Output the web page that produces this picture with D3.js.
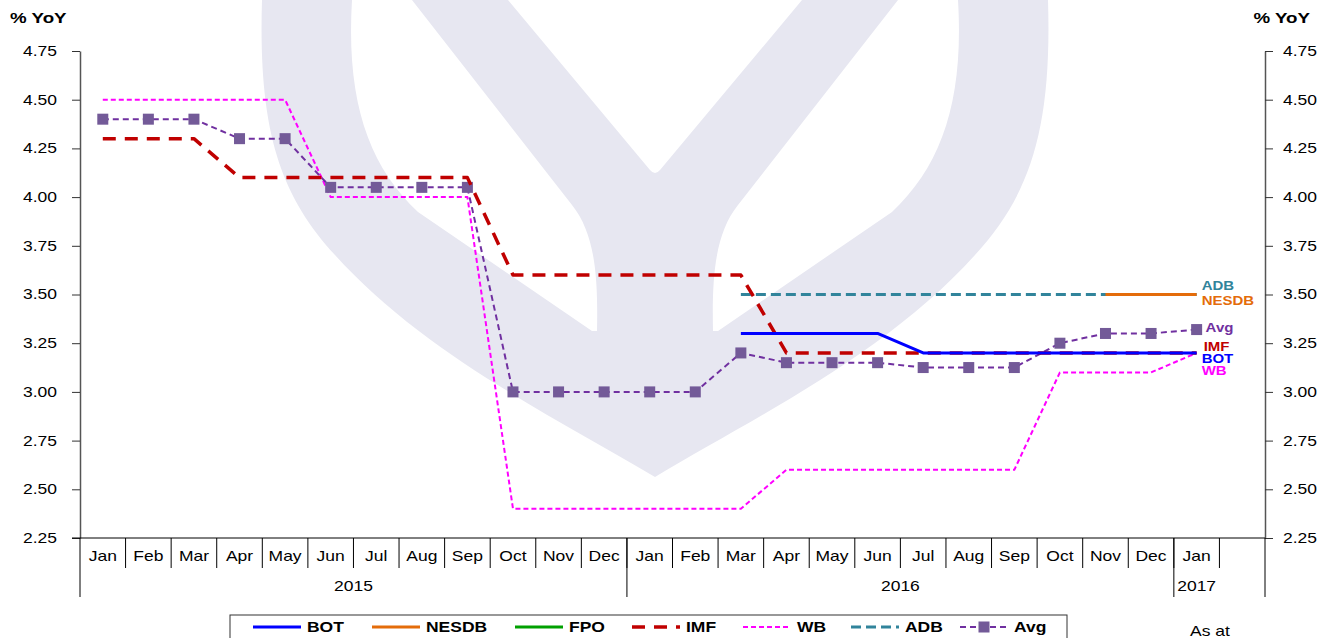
<!DOCTYPE html>
<html>
<head>
<meta charset="utf-8">
<script src="https://cdnjs.cloudflare.com/ajax/libs/d3/7.8.5/d3.min.js"></script>
<style>
  body { margin: 0; background: #fff; }
  svg { font-family: "Liberation Sans", Arial, sans-serif; }
</style>
</head>
<body>
<svg id="chart" width="1333" height="638"></svg>
<script>
// Categories (one slot per month, plus an empty slot at the end)
var months = ["Jan", "Feb", "Mar", "Apr", "May", "Jun", "Jul", "Aug", "Sep", "Oct", "Nov", "Dec",
  "Jan", "Feb", "Mar", "Apr", "May", "Jun", "Jul", "Aug", "Sep", "Oct", "Nov", "Dec",
  "Jan"];
var years = ["2015", "2016", "2017"];
var yearLengths = [12, 12, 1];
var yTicks = [2.25, 2.50, 2.75, 3.00, 3.25, 3.50, 3.75, 4.00, 4.25, 4.50, 4.75];

// Series values (% YoY forecasts), null = no forecast that month
var bot = [null, null, null, null, null, null, null, null, null, null, null, null,
  null, null, 3.3, 3.3, 3.3, 3.3, 3.2, 3.2, 3.2, 3.2, 3.2, 3.2, 3.2];
var nesdb = [null, null, null, null, null, null, null, null, null, null, null, null,
  null, null, null, null, null, null, null, null, null, null, 3.5, 3.5, 3.5];
var fpo = [null, null, null, null, null, null, null, null, null, null, null, null,
  null, null, null, null, null, null, null, null, null, null, null, null, null];
var imf = [4.3, 4.3, 4.3, 4.1, 4.1, 4.1, 4.1, 4.1, 4.1, 3.6, 3.6, 3.6,
  3.6, 3.6, 3.6, 3.2, 3.2, 3.2, 3.2, 3.2, 3.2, 3.2, 3.2, 3.2, 3.2];
var wb = [4.5, 4.5, 4.5, 4.5, 4.5, 4.0, 4.0, 4.0, 4.0, 2.4, 2.4, 2.4,
  2.4, 2.4, 2.4, 2.6, 2.6, 2.6, 2.6, 2.6, 2.6, 3.1, 3.1, 3.1, 3.2];
var adb = [null, null, null, null, null, null, null, null, null, null, null, null,
  null, null, 3.5, 3.5, 3.5, 3.5, 3.5, 3.5, 3.5, 3.5, 3.5, 3.5, 3.5];
var avg = [4.4, 4.4, 4.4, 4.3, 4.3, 4.05, 4.05, 4.05, 4.05, 3.0, 3.0, 3.0,
  3.0, 3.0, 3.2, 3.15, 3.15, 3.15, 3.125, 3.125, 3.125, 3.25, 3.3, 3.3, 3.32];

// Chart area
var plot = { left: 80, right: 1265, top: 51, bottom: 538 };
var nSlots = months.length + 1;
var stretchX = 1.25; // the original text is drawn a bit wide

var svg = d3.select("#chart");

var xScale = d3.scaleBand()
  .domain(d3.range(nSlots))
  .range([plot.left, plot.right]);

var yScale = d3.scaleLinear()
  .domain([2.25, 4.75])
  .range([plot.bottom, plot.top]);

var xc = i => xScale(i) + xScale.bandwidth() / 2;

// Watermark logo (decoration behind the lines)
var wm = svg.append("g");
wm.append("path")
  .attr("fill", "#e7e7f1")
  .attr("d", "M262,0 C258,130 280,195 335,255 C425,355 560,420 655,477 C750,420 885,355 975,255 C1030,195 1052,130 1048,0 Z");
wm.append("path")
  .attr("fill", "#fff")
  .attr("d", "M352,0 C346,100 368,165 418,212 L592,331 L597,331 C598,280 596,235 572,205 L412,0 Z");
wm.append("path")
  .attr("fill", "#fff")
  .attr("d", "M958,0 C964,100 942,165 892,212 L718,331 L713,331 C712,280 714,235 738,205 L898,0 Z");
wm.append("path")
  .attr("fill", "#fff")
  .attr("d", "M508,0 L650,170 Q655,176 660,170 L802,0 Z");

// Y axes (left and right)
var leftAxis = d3.axisLeft(yScale).tickValues(yTicks).tickFormat(d3.format(".2f")).tickSize(8).tickSizeOuter(0);
var rightAxis = d3.axisRight(yScale).tickValues(yTicks).tickFormat(d3.format(".2f")).tickSize(8).tickSizeOuter(0);

var gl = svg.append("g")
  .attr("transform", `translate(${plot.left},0)`)
  .call(leftAxis);
var gr = svg.append("g")
  .attr("transform", `translate(${plot.right},0)`)
  .call(rightAxis);

[gl, gr].forEach(function(g) {
  g.attr("font-family", null).attr("font-size", null);
  g.select(".domain").attr("stroke", "#555").attr("stroke-width", 1.5);
  g.selectAll(".tick line").attr("stroke", "#333");
  g.selectAll(".tick text").attr("font-size", 14).attr("fill", "#000");
});
gl.selectAll(".tick text").attr("x", -23);
gr.selectAll(".tick text").attr("x", 18);

svg.append("text").attr("x", 10).attr("y", 23).attr("font-size", 15).attr("font-weight", "bold").text("% YoY");
svg.append("text").attr("x", 1310).attr("y", 23).attr("font-size", 15).attr("font-weight", "bold")
  .attr("text-anchor", "end").text("% YoY");

// Category axis: two rows (months, years)
var cat = svg.append("g").attr("stroke", "#000").attr("stroke-width", 1);
cat.append("line").attr("x1", plot.left - 8).attr("x2", plot.right)
  .attr("y1", plot.bottom).attr("y2", plot.bottom);

d3.range(1, months.length + 1).forEach(function(i) {
  cat.append("line")
    .attr("x1", xScale(i)).attr("x2", xScale(i))
    .attr("y1", plot.bottom).attr("y2", plot.bottom + 30);
});

svg.append("g").selectAll("text")
  .data(months)
  .join("text")
  .attr("x", (d, i) => xc(i))
  .attr("y", plot.bottom + 23)
  .attr("text-anchor", "middle")
  .attr("font-size", 14)
  .text(d => d);

var yearStarts = d3.cumsum([0].concat(yearLengths));
[0, 12, 24, nSlots].forEach(function(b) {
  var x = b >= nSlots ? plot.right : xScale(b);
  cat.append("line").attr("x1", x).attr("x2", x)
    .attr("y1", plot.bottom).attr("y2", plot.bottom + 59);
});
svg.append("g").selectAll("text")
  .data(years)
  .join("text")
  .attr("x", (d, i) => xScale(yearStarts[i]) + yearLengths[i] * xScale.bandwidth() / 2)
  .attr("y", plot.bottom + 53)
  .attr("text-anchor", "middle")
  .attr("font-size", 14)
  .text(d => d);

// Series
var series = [
  { name: "BOT", values: bot, color: "#0000ff", width: 3, dash: null },
  { name: "NESDB", values: nesdb, color: "#e46c0a", width: 3, dash: null },
  { name: "FPO", values: fpo, color: "#00a000", width: 3, dash: null },
  { name: "IMF", values: imf, color: "#c00000", width: 3.5, dash: "13,9" },
  { name: "WB", values: wb, color: "#ff00ff", width: 2, dash: "5,3" },
  { name: "ADB", values: adb, color: "#31849b", width: 3, dash: "10,5" },
  { name: "Avg", values: avg, color: "#7030a0", width: 2, dash: "6,4", marker: "#735a98" }
];

var drawLine = d3.line()
  .defined(d => d != null)
  .x((d, i) => xc(i))
  .y(d => yScale(d));

// later series on top
var drawOrder = ["ADB", "WB", "Avg", "IMF", "BOT", "NESDB", "FPO"];
var lines = svg.append("g");
drawOrder.forEach(function(nm) {
  var s = series.find(d => d.name === nm);
  lines.append("path")
    .attr("d", drawLine(s.values))
    .attr("fill", "none")
    .attr("stroke", s.color)
    .attr("stroke-width", s.width)
    .attr("stroke-dasharray", s.dash)
    .attr("stroke-linejoin", "round");
  if (s.marker) {
    lines.append("g").selectAll("rect")
      .data(s.values.map((v, i) => ({ v: v, i: i })).filter(d => d.v != null))
      .join("rect")
      .attr("x", d => xc(d.i) - 5.5)
      .attr("y", d => yScale(d.v) - 5.5)
      .attr("width", 11)
      .attr("height", 11)
      .attr("fill", s.marker);
  }
});

// End labels next to the last point
var endLabels = [
  { name: "ADB", color: "#31849b", dx: 5, dy: -9 },
  { name: "NESDB", color: "#e46c0a", dx: 5, dy: 6 },
  { name: "Avg", color: "#7030a0", dx: 9, dy: -2 },
  { name: "IMF", color: "#c00000", dx: 7, dy: -6 },
  { name: "BOT", color: "#0000ff", dx: 5, dy: 6 },
  { name: "WB", color: "#ff00ff", dx: 5, dy: 18 }
];
svg.append("g").selectAll("text")
  .data(endLabels)
  .join("text")
  .attr("x", d => xc(months.length - 1) + d.dx)
  .attr("y", function(d) {
    var s = series.find(e => e.name === d.name);
    return yScale(s.values[s.values.length - 1]) + d.dy;
  })
  .attr("dy", "0.35em")
  .attr("font-size", 12)
  .attr("font-weight", "bold")
  .attr("fill", d => d.color)
  .text(d => d.name);

// Legend
var legend = svg.append("g");
legend.append("rect")
  .attr("x", 230).attr("y", 615).attr("width", 837).attr("height", 40)
  .attr("fill", "#fff").attr("stroke", "#333");
var legendX = [253, 372, 515, 632, 743, 851, 960];
series.forEach(function(s, i) {
  var x0 = legendX[i];
  legend.append("line")
    .attr("x1", x0).attr("x2", x0 + 48)
    .attr("y1", 627).attr("y2", 627)
    .attr("stroke", s.color)
    .attr("stroke-width", s.width)
    .attr("stroke-dasharray", s.dash);
  if (s.marker) {
    legend.append("rect")
      .attr("x", x0 + 24 - 5.5).attr("y", 627 - 5.5)
      .attr("width", 11).attr("height", 11).attr("fill", s.marker);
  }
  legend.append("text")
    .attr("x", x0 + 54).attr("y", 627)
    .attr("dy", "0.35em")
    .attr("font-size", 14)
    .attr("font-weight", "bold")
    .text(s.name);
});

svg.append("text").attr("x", 1190).attr("y", 636).attr("font-size", 14).text("As at");

// widen all text horizontally, keeping each anchor point in place
svg.selectAll("text").each(function() {
  var t = d3.select(this);
  var x = +t.attr("x") || 0;
  var tr = t.attr("transform") || "";
  t.attr("x", x / stretchX).attr("transform", tr + ` scale(${stretchX},1)`);
});
</script>
</body>
</html>
